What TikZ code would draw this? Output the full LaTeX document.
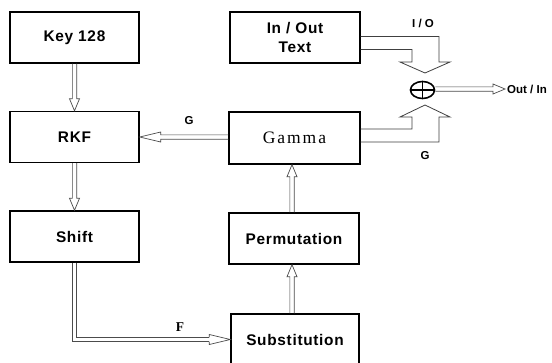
\documentclass[tikz,border=0pt]{standalone}
\usepackage{fontspec}
\usetikzlibrary{calc,shapes.geometric}
\newfontfamily\boxfont[LetterSpace=4.5]{Liberation Sans}
\newfontfamily\gamfont[LetterSpace=11]{Liberation Serif}
\newfontfamily\labfont{Liberation Sans}
\newfontfamily\serfont{Liberation Serif}
\begin{document}
\begin{tikzpicture}[x=1pt,y=-1pt,
  box/.style={draw, line width=1.4pt, minimum width=129pt, minimum height=51pt, inner sep=0pt,
    font=\boxfont\bfseries\fontsize{15.4}{19}\selectfont, align=center},
  dbl/.style={draw=black!70, line width=0.7pt, double=white, double distance=3.6pt},
  harrow/.style={draw=black!70, line width=0.7pt, line join=miter,
    to path={($(\tikztostart)!2.15pt!90:(\tikztotarget)$)
      -- ($(\tikztotarget)!#1!(\tikztostart)!2.15pt!90:(\tikztotarget)$)
      -- ($(\tikztotarget)!#1!(\tikztostart)!5pt!90:(\tikztotarget)$)
      -- (\tikztotarget)
      -- ($(\tikztotarget)!#1!(\tikztostart)!5pt!-90:(\tikztotarget)$)
      -- ($(\tikztotarget)!#1!(\tikztostart)!2.15pt!-90:(\tikztotarget)$)
      -- ($(\tikztostart)!2.15pt!-90:(\tikztotarget)$)}},
  hd/.style={draw=black!70, line width=0.7pt, line join=miter,
    to path={($(\tikztostart)!2.15pt!90:(\tikztotarget)$) -- ($(\tikztostart)!5pt!90:(\tikztotarget)$)
      -- (\tikztotarget) -- ($(\tikztostart)!5pt!-90:(\tikztotarget)$) -- ($(\tikztostart)!2.15pt!-90:(\tikztotarget)$)}},
  wide/.style={draw=black!75, line width=0.8pt, line join=miter},
  lab/.style={font=\labfont\bfseries\fontsize{11.5}{13}\selectfont, inner sep=0pt}
]
\useasboundingbox (0,0) rectangle (552,362);
\clip (0,0) rectangle (552,362);
\fill[white] (0,0) rectangle (552,362);

% boxes
\node[box] (key)   at (74.5,37.5) {Key 128};
\node[box] (rkf)   at (74.5,137)  {RKF};
\node[box] (shift) at (74.5,236.5) {Shift};
\node[box, minimum width=130pt] (io) at (295,37.5) {In / Out\\Text};
\node[box, minimum width=131pt, minimum height=52pt, font=\gamfont\fontsize{17.5}{20}\selectfont] (gamma) at (294.5,138) {Gamma};
\node[box, minimum width=130pt] (perm)  at (294,238.5) {Permutation};
\node[box, minimum width=128pt] (sub)   at (295,339.5) {Substitution};

% XOR
\node[draw, ellipse, line width=1.6pt, minimum width=24pt, minimum height=17pt, inner sep=0pt] (xor) at (422.5,90) {};
\draw[line width=1.4pt] (xor.north) -- (xor.south) (xor.west) -- (xor.east);

% helper coordinates
\coordinate (g1) at (gamma.west |- rkf.east);
\coordinate (t5) at ($(perm.south)+(-2,0)$);
\coordinate (s5) at ($(sub.north)+(-3,0)$);
\coordinate (t6) at ($(gamma.south)+(-2.5,0)$);
\coordinate (s6) at ($(perm.north)+(-2,0)$);
\coordinate (s7) at ($(xor.east)+(0,-1)$);
\coordinate (t7) at (505,89);
\coordinate (b4) at ($(sub.west)+(-21,0)$);

% connectors
\draw[harrow=12pt] (key.south) to (rkf.north);
\draw[harrow=12pt] (rkf.south) to (shift.north);
\draw[harrow=21pt] (g1) to (rkf.east);
\draw[harrow=12pt] (s5) to (t5);
\draw[harrow=12pt] (s6) to (t6);
\draw[harrow=12pt] (s7) to (t7);
\draw[dbl] (shift.south) |- (b4); \draw[hd] (b4) to (sub.west);

% wide arrows into XOR
\draw[wide] ([yshift=1pt]io.east) -- (439,36.5) -- (439,62) -- (450,62) -- (425,73)
  -- (400,62) -- (412,62) -- (412,49.5) -- ([yshift=-12pt]io.east);
\draw[wide] ([yshift=9pt]gamma.east) -- (412,129) -- (412,117) -- (400,117) -- (425,105)
  -- (450,117) -- (439,117) -- (439,142) -- ([yshift=-4pt]gamma.east);

% labels
\node[lab] (lio) at (423,23) {I / O};
\node[lab] (lg2) at (425,156) {G};
\node[lab] (lg1) at (189,121) {G};
\node[lab, anchor=west] (lout) at (507,89.5) {Out / In};
\node[inner sep=0pt, font=\serfont\bfseries\fontsize{13.5}{15}\selectfont] (lf) at (180,327) {F};
\end{tikzpicture}
\end{document}
